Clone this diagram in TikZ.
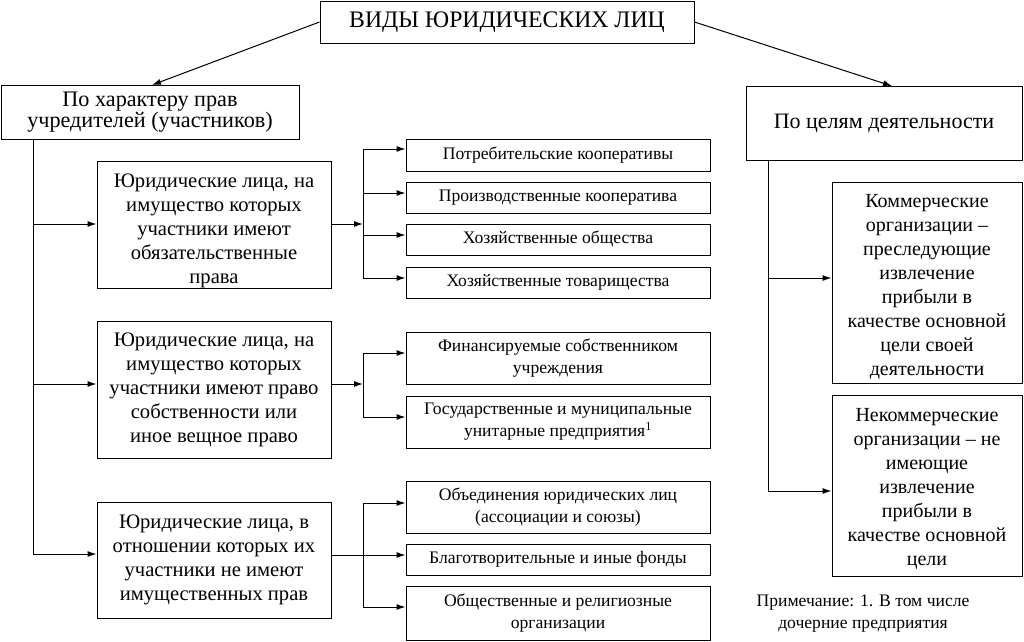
\documentclass[tikz,border=0pt]{standalone}
\usepackage{fontspec}
\setmainfont{Liberation Serif}
\usetikzlibrary{arrows.meta}
\begin{document}
\begin{tikzpicture}[x=1pt,y=-1pt,
  box/.style={draw, line width=1pt, align=center, inner sep=0pt},
  txt/.style={align=center, inner sep=0pt},
  arr/.style={-{Latex[length=9pt,width=6pt]}, line width=1pt},
  ln/.style={line width=1pt},
  bigtxt/.style={font=\fontsize{20.6}{24}\selectfont},
  itxt/.style={font=\fontsize{17.6}{22}\selectfont}]
\useasboundingbox (0,0) rectangle (1024,641);
% top level
\node[box, minimum width=374pt, minimum height=42pt, font=\fontsize{23.7}{28}\selectfont] (T) at (507,22) {ВИДЫ ЮРИДИЧЕСКИХ ЛИЦ};
\node[box, minimum width=298pt, minimum height=54pt, font=\fontsize{22.2}{19}\selectfont] (L) at (150,112) {По характеру прав\\учредителей (участников)};
\node[box, minimum width=276pt, minimum height=74pt, font=\fontsize{22}{26}\selectfont] (R) at (884,123) {По целям деятельности};
\draw[arr] (T.west) -- (152,85) coordinate (Ltop);
\draw[arr] (T.east) -- (892,86) coordinate (Rtop);
% groups
\node[box, minimum width=234pt, minimum height=127pt] (G1) at (214,224.5) {};
\node[txt, bigtxt] (G1t) at (214,230.5) {Юридические лица, на\\имущество которых\\участники имеют\\обязательственные\\права};
\node[box, bigtxt, minimum width=234pt, minimum height=137pt] (G2) at (214,389.5) {Юридические лица, на\\имущество которых\\участники имеют право\\собственности или\\иное вещное право};
\node[box, bigtxt, minimum width=234pt, minimum height=116pt] (G3) at (214,560) {Юридические лица, в\\отношении которых их\\участники не имеют\\имущественных прав};
% left trunk
\coordinate (t0) at (33,139);
\coordinate (t1) at (33,224);
\coordinate (t2) at (33,384);
\coordinate (t3) at (33,554);
\draw[ln] (t0) -- (t3);
\draw[arr] (t1) -- (t1 -| G1.west);
\draw[arr] (t2) -- (t2 -| G2.west);
\draw[arr] (t3) -- (t3 -| G3.west);
% items group 1
\node[box, itxt, minimum width=304pt, minimum height=32pt] (I1) at (558,155) {Потребительские кооперативы};
\node[box, itxt, minimum width=304pt, minimum height=31pt] (I2) at (558,197.5) {Производственные кооператива};
\node[box, itxt, minimum width=304pt, minimum height=31pt] (I3) at (558,239.5) {Хозяйственные общества};
\node[box, itxt, minimum width=304pt, minimum height=31pt] (I4) at (558,282.5) {Хозяйственные товарищества};
\coordinate (b1) at (363,149);
\coordinate (b2) at (363,193);
\coordinate (b3) at (363,235);
\coordinate (b4) at (363,278);
\coordinate (g1) at (363,224);
\draw[arr] (G1.east |- g1) -- (g1);
\draw[ln] (b1) -- (b4);
\draw[arr] (b1) -- (b1 -| I1.west);
\draw[arr] (b2) -- (b2 -| I2.west);
\draw[arr] (b3) -- (b3 -| I3.west);
\draw[arr] (b4) -- (b4 -| I4.west);
% items group 2
\node[box, itxt, minimum width=304pt, minimum height=52pt] (F1) at (558,358) {Финансируемые собственником\\учреждения};
\node[box, itxt, minimum width=304pt, minimum height=52pt] (F2) at (558,422) {Государственные и муниципальные\\унитарные предприятия\textsuperscript{1}};
\coordinate (c1) at (363,353);
\coordinate (c2) at (363,417);
\coordinate (g2) at (363,384);
\draw[arr] (G2.east |- g2) -- (g2);
\draw[ln] (c1) -- (c2);
\draw[arr] (c1) -- (c1 -| F1.west);
\draw[arr] (c2) -- (c2 -| F2.west);
% items group 3
\node[box, itxt, minimum width=304pt, minimum height=52pt] (O1) at (558,507) {Объединения юридических лиц\\(ассоциации и союзы)};
\node[box, itxt, minimum width=304pt, minimum height=31pt] (O2) at (558,559.5) {Благотворительные и иные фонды};
\node[box, itxt, minimum width=304pt, minimum height=54pt] (O3) at (558,613) {Общественные и религиозные\\организации};
\coordinate (d1) at (363,503);
\coordinate (d2) at (363,555);
\coordinate (d3) at (363,607);
\draw[ln] (G3.east |- d2) -- (d2);
\draw[ln] (d1) -- (d3);
\draw[arr] (d1) -- (d1 -| O1.west);
\draw[arr] (d2) -- (d2 -| O2.west);
\draw[arr] (d3) -- (d3 -| O3.west);
% right side
\node[box, minimum width=190pt, minimum height=201pt] (C) at (927,282.5) {};
\node[txt, font=\fontsize{20}{24}\selectfont] (Ct) at (927,286.5) {Коммерческие\\организации –\\преследующие\\извлечение\\прибыли в\\качестве основной\\цели своей\\деятельности};
\node[box, minimum width=190pt, minimum height=181pt] (N) at (927,485.5) {};
\node[txt, font=\fontsize{20}{24}\selectfont] (Nt) at (927,488.5) {Некоммерческие\\организации – не\\имеющие\\извлечение\\прибыли в\\качестве основной\\цели};
\coordinate (r0) at (768,160);
\coordinate (r1) at (768,278);
\coordinate (r2) at (768,491);
\draw[ln] (r0) -- (r2);
\draw[arr] (r1) -- (r1 -| C.west);
\draw[arr] (r2) -- (r2 -| N.west);
% note
\node[txt, font=\fontsize{17.6}{22}\selectfont] (note) at (863,614) {Примечание: 1. В том числе\\дочерние предприятия};
\end{tikzpicture}
\end{document}
